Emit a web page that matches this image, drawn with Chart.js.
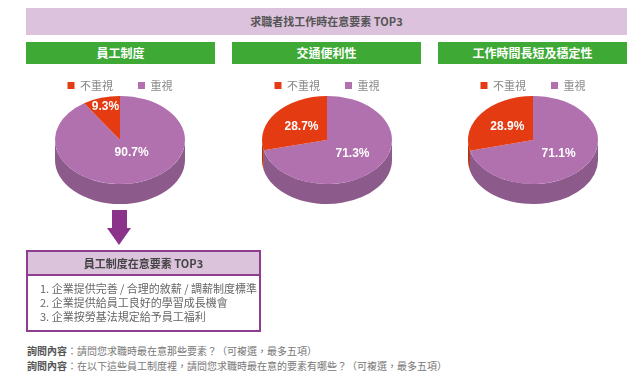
<!DOCTYPE html>
<html>
<head>
<meta charset="utf-8">
<script src="https://cdn.jsdelivr.net/npm/chart.js@4.4.0/dist/chart.umd.min.js"></script>
<style>
  body { margin: 0; background: #fff; width: 642px; height: 388px; position: relative; overflow: hidden;
         font-family: "Noto Sans CJK TC", "Noto Sans", sans-serif; }
  .abs { position: absolute; }
  #title { left: 26px; top: 8px; width: 601px; height: 27px; line-height: 27px; background: #dcc2dc;
           text-align: center; font-size: 11px; font-weight: bold; color: #555; }
  .head { top: 42px; width: 189px; height: 22px; line-height: 22px; background: #3ea935; color: #fff;
          text-align: center; font-size: 12px; font-weight: bold; }
  .pie { top: 55px; width: 200px; height: 170px; }
  #shaft { left: 112px; top: 210px; width: 15px; height: 19px; background: #8b338b; }
  #tip { left: 107px; top: 228px; width: 0; height: 0; border-left: 12.5px solid transparent;
         border-right: 12.5px solid transparent; border-top: 17px solid #8b338b; }
  #box { left: 26px; top: 250px; width: 231px; height: 78px; border: 2px solid #8e3e8e; }
  #boxHead { height: 22px; line-height: 22px; background: #dcc3dc; border-bottom: 2px solid #8e3e8e;
             text-align: center; font-size: 11px; font-weight: bold; color: #444; }
  #boxList { padding: 5px 0 0 12px; font-size: 11px; line-height: 14px; color: #666; }
  #notes { left: 27px; top: 343px; font-size: 10px; line-height: 15px; color: #777; }
  #notes b { color: #555; }
</style>
</head>
<body>
<div id="title" class="abs"></div>
<div id="heads"></div>
<div id="pies"></div>
<div id="shaft" class="abs"></div>
<div id="tip" class="abs"></div>
<div id="box" class="abs"><div id="boxHead"></div><div id="boxList"></div></div>
<div id="notes" class="abs"></div>

<script>
const chartTitle = '求職者找工作時在意要素 TOP3';
const categories = ['員工制度', '交通便利性', '工作時間長短及穩定性'];
const seriesLabels = ['重視', '不重視'];
const valuedPct = [90.7, 71.3, 71.1];
const notValuedPct = [9.3, 28.7, 28.9];
const topColors = ['#b170ae', '#e43b12'];
const sideColors = ['#8c5a8b', '#b32f0f'];

const top3Title = '員工制度在意要素 TOP3';
const top3Items = [
  '1. 企業提供完善 / 合理的敘薪 / 調薪制度標準',
  '2. 企業提供給員工良好的學習成長機會',
  '3. 企業按勞基法規定給予員工福利'
];
const noteLabel = '詢問內容';
const notes = [
  '請問您求職時最在意那些要素？（可複選，最多五項）',
  '在以下這些員工制度裡，請問您求職時最在意的要素有哪些？（可複選，最多五項）'
];

document.getElementById('title').textContent = chartTitle;
document.getElementById('boxHead').textContent = top3Title;
document.getElementById('boxList').innerHTML = top3Items.map(t => '<div>' + t + '</div>').join('');
document.getElementById('notes').innerHTML =
  notes.map(t => '<div><b>' + noteLabel + '</b>：' + t + '</div>').join('');

const headLefts = [26, 232, 438];
const pieCenters = [120, 327, 533];

// flat pie squashed into an ellipse, with a darker rim drawn underneath
const pie3d = {
  id: 'pie3d',
  beforeDatasetsDraw(chart, args, opts) {
    const arcs = chart.getDatasetMeta(0).data;
    if (!arcs.length) return;
    const ctx = chart.ctx;
    const { cx, cy, rx, ry, depth } = opts;
    arcs.forEach((arc, i) => {
      const a = Math.max(arc.startAngle, 0);
      const b = Math.min(arc.endAngle, Math.PI);
      if (b <= a) return;
      ctx.beginPath();
      ctx.ellipse(cx, cy, rx, ry, 0, a, b);
      ctx.ellipse(cx, cy + depth, rx, ry, 0, b, a, true);
      ctx.closePath();
      ctx.fillStyle = sideColors[i];
      ctx.fill();
    });
    const r = arcs[0].outerRadius;
    ctx.save();
    ctx.translate(cx, cy);
    ctx.scale(rx / r, ry / r);
    ctx.translate(-arcs[0].x, -arcs[0].y);
  },
  afterDatasetsDraw(chart, args, opts) {
    const arcs = chart.getDatasetMeta(0).data;
    if (!arcs.length) return;
    const ctx = chart.ctx;
    ctx.restore();
    const { cx, cy, rx, ry } = opts;
    const values = chart.data.datasets[0].data;
    ctx.save();
    ctx.font = 'bold 12px "Liberation Sans", Arial, sans-serif';
    ctx.fillStyle = '#fff';
    ctx.textAlign = 'center';
    ctx.textBaseline = 'middle';
    arcs.forEach((arc, i) => {
      const mid = (arc.startAngle + arc.endAngle) / 2;
      const f = values[i] < 15 ? 0.78 : (values[i] > 85 ? 0.3 : 0.5);
      const dx = values[i] > 85 ? 6 : 0;
      ctx.fillText(values[i].toFixed(1) + '%', cx + dx + Math.cos(mid) * rx * f, cy + Math.sin(mid) * ry * f);
    });
    ctx.restore();
  }
};

categories.forEach((name, i) => {
  const h = document.createElement('div');
  h.className = 'abs head';
  h.style.left = headLefts[i] + 'px';
  h.textContent = name;
  document.getElementById('heads').appendChild(h);

  const box = document.createElement('div');
  box.className = 'abs pie';
  box.style.left = (pieCenters[i] - 100) + 'px';
  const cv = document.createElement('canvas');
  cv.width = 200;
  cv.height = 170;
  box.appendChild(cv);
  document.getElementById('pies').appendChild(box);

  new Chart(cv.getContext('2d'), {
    type: 'pie',
    data: {
      labels: seriesLabels,
      datasets: [{
        data: [valuedPct[i], notValuedPct[i]],
        backgroundColor: topColors,
        borderWidth: 0,
        clip: false
      }]
    },
    options: {
      responsive: false,
      animation: false,
      plugins: {
        tooltip: { enabled: false },
        legend: {
          reverse: true,
          labels: {
            boxWidth: 7,
            boxHeight: 7,
            padding: 25,
            color: '#888',
            font: { size: 11, family: '"Noto Sans CJK TC", sans-serif' }
          }
        },
        pie3d: { cx: 100, cy: 85, rx: 65, ry: 44, depth: 20 }
      }
    },
    plugins: [pie3d]
  });
});
</script>
</body>
</html>
